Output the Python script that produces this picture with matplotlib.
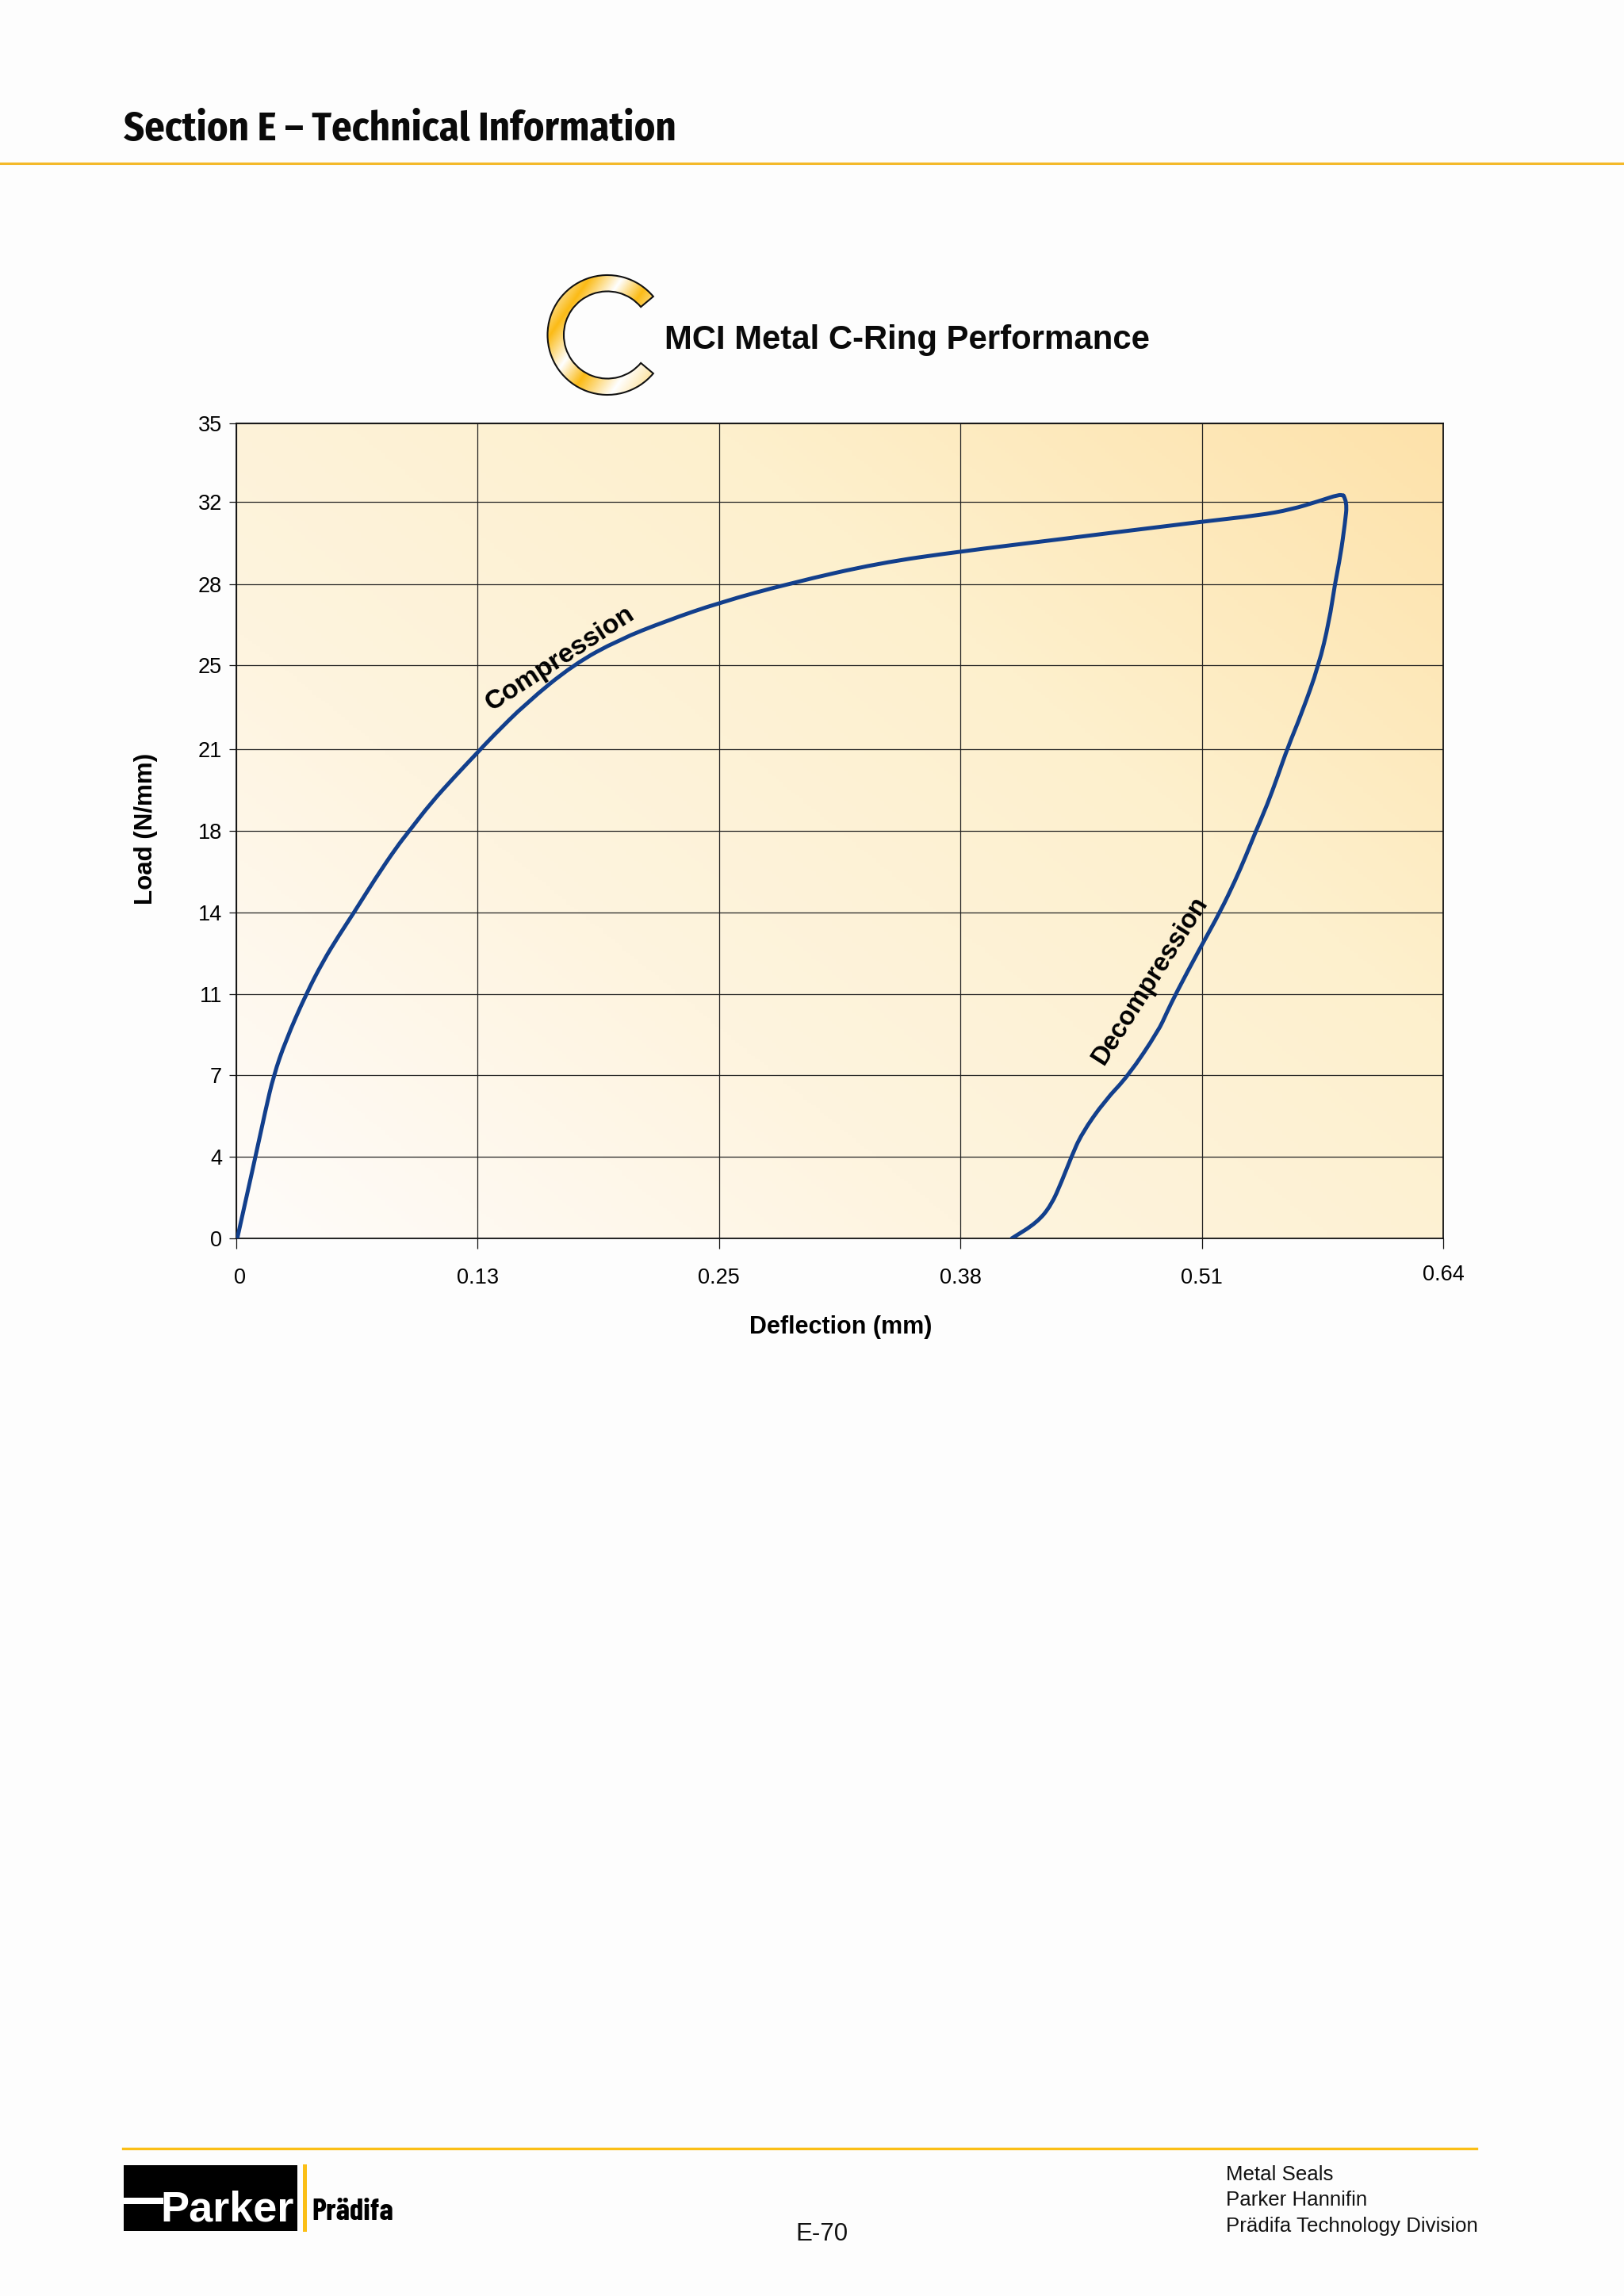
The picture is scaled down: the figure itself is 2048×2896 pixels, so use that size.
#!/usr/bin/env python
# MCI Metal C-Ring performance chart, catalogue page E-70
import matplotlib
matplotlib.use('Agg')
import matplotlib.pyplot as plt
import numpy as np
from matplotlib.colors import LinearSegmentedColormap
from matplotlib.patches import PathPatch, Rectangle, Wedge
from matplotlib.path import Path
from matplotlib.transforms import ScaledTranslation

x_ticks = [0, 0.127, 0.254, 0.381, 0.508, 0.635]
x_tick_labels = ['0', '0.13', '0.25', '0.38', '0.51', '0.64']
y_ticks = [0, 3.5, 7, 10.5, 14, 17.5, 21, 24.62, 28.09, 31.63, 35]
y_tick_labels = ['0', '4', '7', '11', '14', '18', '21', '25', '28', '32', '35']

compression_x = [0.0005, 0.01, 0.0154, 0.0196, 0.0259, 0.0367, 0.0455, 0.0539, 0.0622,
                 0.0731, 0.0843, 0.091, 0.1023, 0.1148, 0.1273, 0.1344, 0.1524, 0.1775,
                 0.2013, 0.2263, 0.254, 0.292, 0.338, 0.381, 0.431, 0.508, 0.538,
                 0.555, 0.570, 0.580, 0.5825]
compression_y = [0, 3.47, 5.52, 6.98, 8.48, 10.49, 11.88, 13.0, 14.03,
                 15.45, 16.8, 17.5, 18.69, 19.82, 20.9, 21.52, 22.98, 24.65,
                 25.71, 26.52, 27.3, 28.15, 29, 29.5, 30, 30.78, 31.05,
                 31.3, 31.67, 31.94, 31.9]
decompression_x = [0.5825, 0.5845, 0.5833, 0.581, 0.578, 0.575, 0.5695, 0.5605, 0.5532,
                   0.5478, 0.5424, 0.5365, 0.5311, 0.5257, 0.5177, 0.5073, 0.4944, 0.4894,
                   0.4852, 0.4693, 0.457, 0.4447, 0.4392, 0.4343, 0.4288, 0.4213, 0.408]
decompression_y = [31.9, 31.63, 30.7, 29.35, 28.09, 26.5, 24.6, 22.54, 21.08,
                   19.82, 18.62, 17.5, 16.41, 15.39, 14.03, 12.5, 10.52, 9.67,
                   8.92, 6.98, 5.92, 4.49, 3.47, 2.45, 1.43, 0.68, 0]

W, H = 2048, 2896
PAGE = '#fdfdfd'
GOLD = '#f4b92a'
BLUE = '#123f8c'
SANS = 'Liberation Sans'
HEADER_FONT = ['Fira Sans Condensed', 'Barlow Condensed', 'Open Sans', 'Liberation Sans']
LOGO_FONT = ['Barlow Condensed', 'Fira Sans Condensed', 'Open Sans', 'Liberation Sans']


def draw_curve(ax, xs, ys, **kw):
    # read points used as control points of quadratic segments, so the line stays smooth
    pts = np.column_stack([xs, ys])
    verts = [pts[0]]
    codes = [Path.MOVETO]
    for a, b in zip(pts[1:-1], pts[2:]):
        verts += [a, (a + b) / 2]
        codes += [Path.CURVE3, Path.CURVE3]
    verts.append(pts[-1])
    codes.append(Path.LINETO)
    ax.add_patch(PathPatch(Path(verts, codes), facecolor='none', edgecolor=BLUE, **kw))


fig = plt.figure(figsize=(W / 100, H / 100), dpi=100, facecolor=PAGE)

# page furniture is placed in pixel coordinates on a full page axes
page = fig.add_axes([0, 0, 1, 1])
page.set_xlim(0, W)
page.set_ylim(H, 0)
page.axis('off')

page.text(156, 177, 'Section E – Technical Information', family=HEADER_FONT, fontweight='bold',
          fontsize=36.3, color='#0a0a0a', va='baseline')
page.plot([0, W], [206, 206], color=GOLD, lw=2.2)
page.plot([155, 1862], [2710, 2710], color='#fbbf17', lw=2.4)

# C-ring logo, gradient clipped by a wedge
ring_cmap = LinearSegmentedColormap.from_list('ring', [
    (0.0, '#fdeec8'), (0.16, '#fbbb16'), (0.34, '#ffffff'), (0.50, '#fbbb16'),
    (0.72, '#ffffff'), (0.88, '#fde3a0'), (1.0, '#fbbb16')])
gx, gy = np.meshgrid(np.linspace(-80, 80, 200), np.linspace(-80, 80, 200))
ring_img = page.imshow(0.82 * gx + 0.57 * gy, cmap=ring_cmap, vmin=-90, vmax=100, aspect='auto',
                       extent=(686, 846, 502.5, 342.5), interpolation='bilinear', zorder=2)
ring = Wedge((766, 422.5), 75.5, 40, 320, width=20.5, facecolor='none', edgecolor='#111111',
             lw=1.5, transform=page.transData, zorder=3)
page.add_patch(ring)
ring_img.set_clip_path(ring)
page.set_xlim(0, W)
page.set_ylim(H, 0)

page.text(838, 440, 'MCI Metal C-Ring Performance', family=SANS, fontweight='bold', fontsize=30.2,
          color='#0a0a0a', va='baseline')

# footer logo
page.add_patch(Rectangle((156, 2731), 219, 83, facecolor='black', edgecolor='none'))
page.add_patch(Rectangle((382, 2730), 5, 85, facecolor='#fbbf17', edgecolor='none'))
page.add_patch(Rectangle((156, 2772), 50, 8, facecolor='white', edgecolor='none'))
page.text(202, 2802, 'Parker', family=SANS, fontweight='bold', fontsize=39, color='white',
          va='baseline')
page.text(393, 2800, 'Prädifa', family=LOGO_FONT, fontweight='bold', fontsize=28, color='black',
          va='baseline')
page.text(1036, 2818, 'E-70', family=SANS, fontsize=22.5, color='#111111', ha='center', va='center')
for line_y, line in zip([2743, 2775, 2808],
                        ['Metal Seals', 'Parker Hannifin', 'Prädifa Technology Division']):
    page.text(1546, line_y, line, family=SANS, fontsize=18.6, color='#111111', va='center')

# chart
ax = fig.add_axes([298 / W, 1 - 1562 / H, (1820 - 298) / W, (1562 - 534) / H])
ax.patch.set_alpha(0)

u, v = np.meshgrid(np.linspace(0, 1, 300), np.linspace(0, 1, 300))
bg_cmap = LinearSegmentedColormap.from_list('bg', ['#fffcfa', '#fef4df', '#fdf0cd', '#fde2aa'])
ax.imshow(0.55 * u + 0.45 * v, cmap=bg_cmap, vmin=0, vmax=1, origin='lower', aspect='auto',
          extent=(0, x_ticks[-1], 0, y_ticks[-1]), zorder=0)

ax.set_xlim(0, x_ticks[-1])
ax.set_ylim(0, y_ticks[-1])
ax.set_xticks(x_ticks)
ax.set_xticklabels(x_tick_labels, family=SANS, fontsize=19.5)
ax.set_yticks(y_ticks)
ax.set_yticklabels(y_tick_labels, family=SANS, fontsize=19.5)
ax.tick_params(axis='x', length=9.5, width=0.9, pad=17, color='#111111')
ax.tick_params(axis='y', length=6.5, width=0.9, pad=6.5, color='#111111')
ax.grid(True, color='#222222', lw=0.9, zorder=1)
ax.set_axisbelow(True)
for spine in ax.spines.values():
    spine.set_linewidth(1.3)
    spine.set_color('#111111')

# first and last deflection labels sit a little off the others on the page
x_labels = ax.get_xticklabels()
x_labels[0].set_transform(x_labels[0].get_transform() + ScaledTranslation(4 / 100, 0, fig.dpi_scale_trans))
x_labels[-1].set_transform(x_labels[-1].get_transform() + ScaledTranslation(0, 4 / 100, fig.dpi_scale_trans))

draw_curve(ax, compression_x, compression_y, lw=3.6, capstyle='round', joinstyle='round', zorder=3)
draw_curve(ax, decompression_x, decompression_y, lw=3.6, capstyle='round', joinstyle='round', zorder=3)

ax.text(0.1703, 24.9, 'Compression', family=SANS, fontweight='bold', fontsize=24.5, rotation=33,
        ha='center', va='center', rotation_mode='anchor', zorder=4)
ax.text(0.481, 11.08, 'Decompression', family=SANS, fontweight='bold', fontsize=23.5, rotation=57.5,
        ha='center', va='center', rotation_mode='anchor', zorder=4)

page.text(184, 1045, 'Load (N/mm)', family=SANS, fontweight='bold', fontsize=22.5, rotation=90,
          ha='center', va='center')
page.text(1060, 1674, 'Deflection (mm)', family=SANS, fontweight='bold', fontsize=22,
          ha='center', va='center')

fig.savefig('out.png', dpi=100, facecolor=PAGE)
